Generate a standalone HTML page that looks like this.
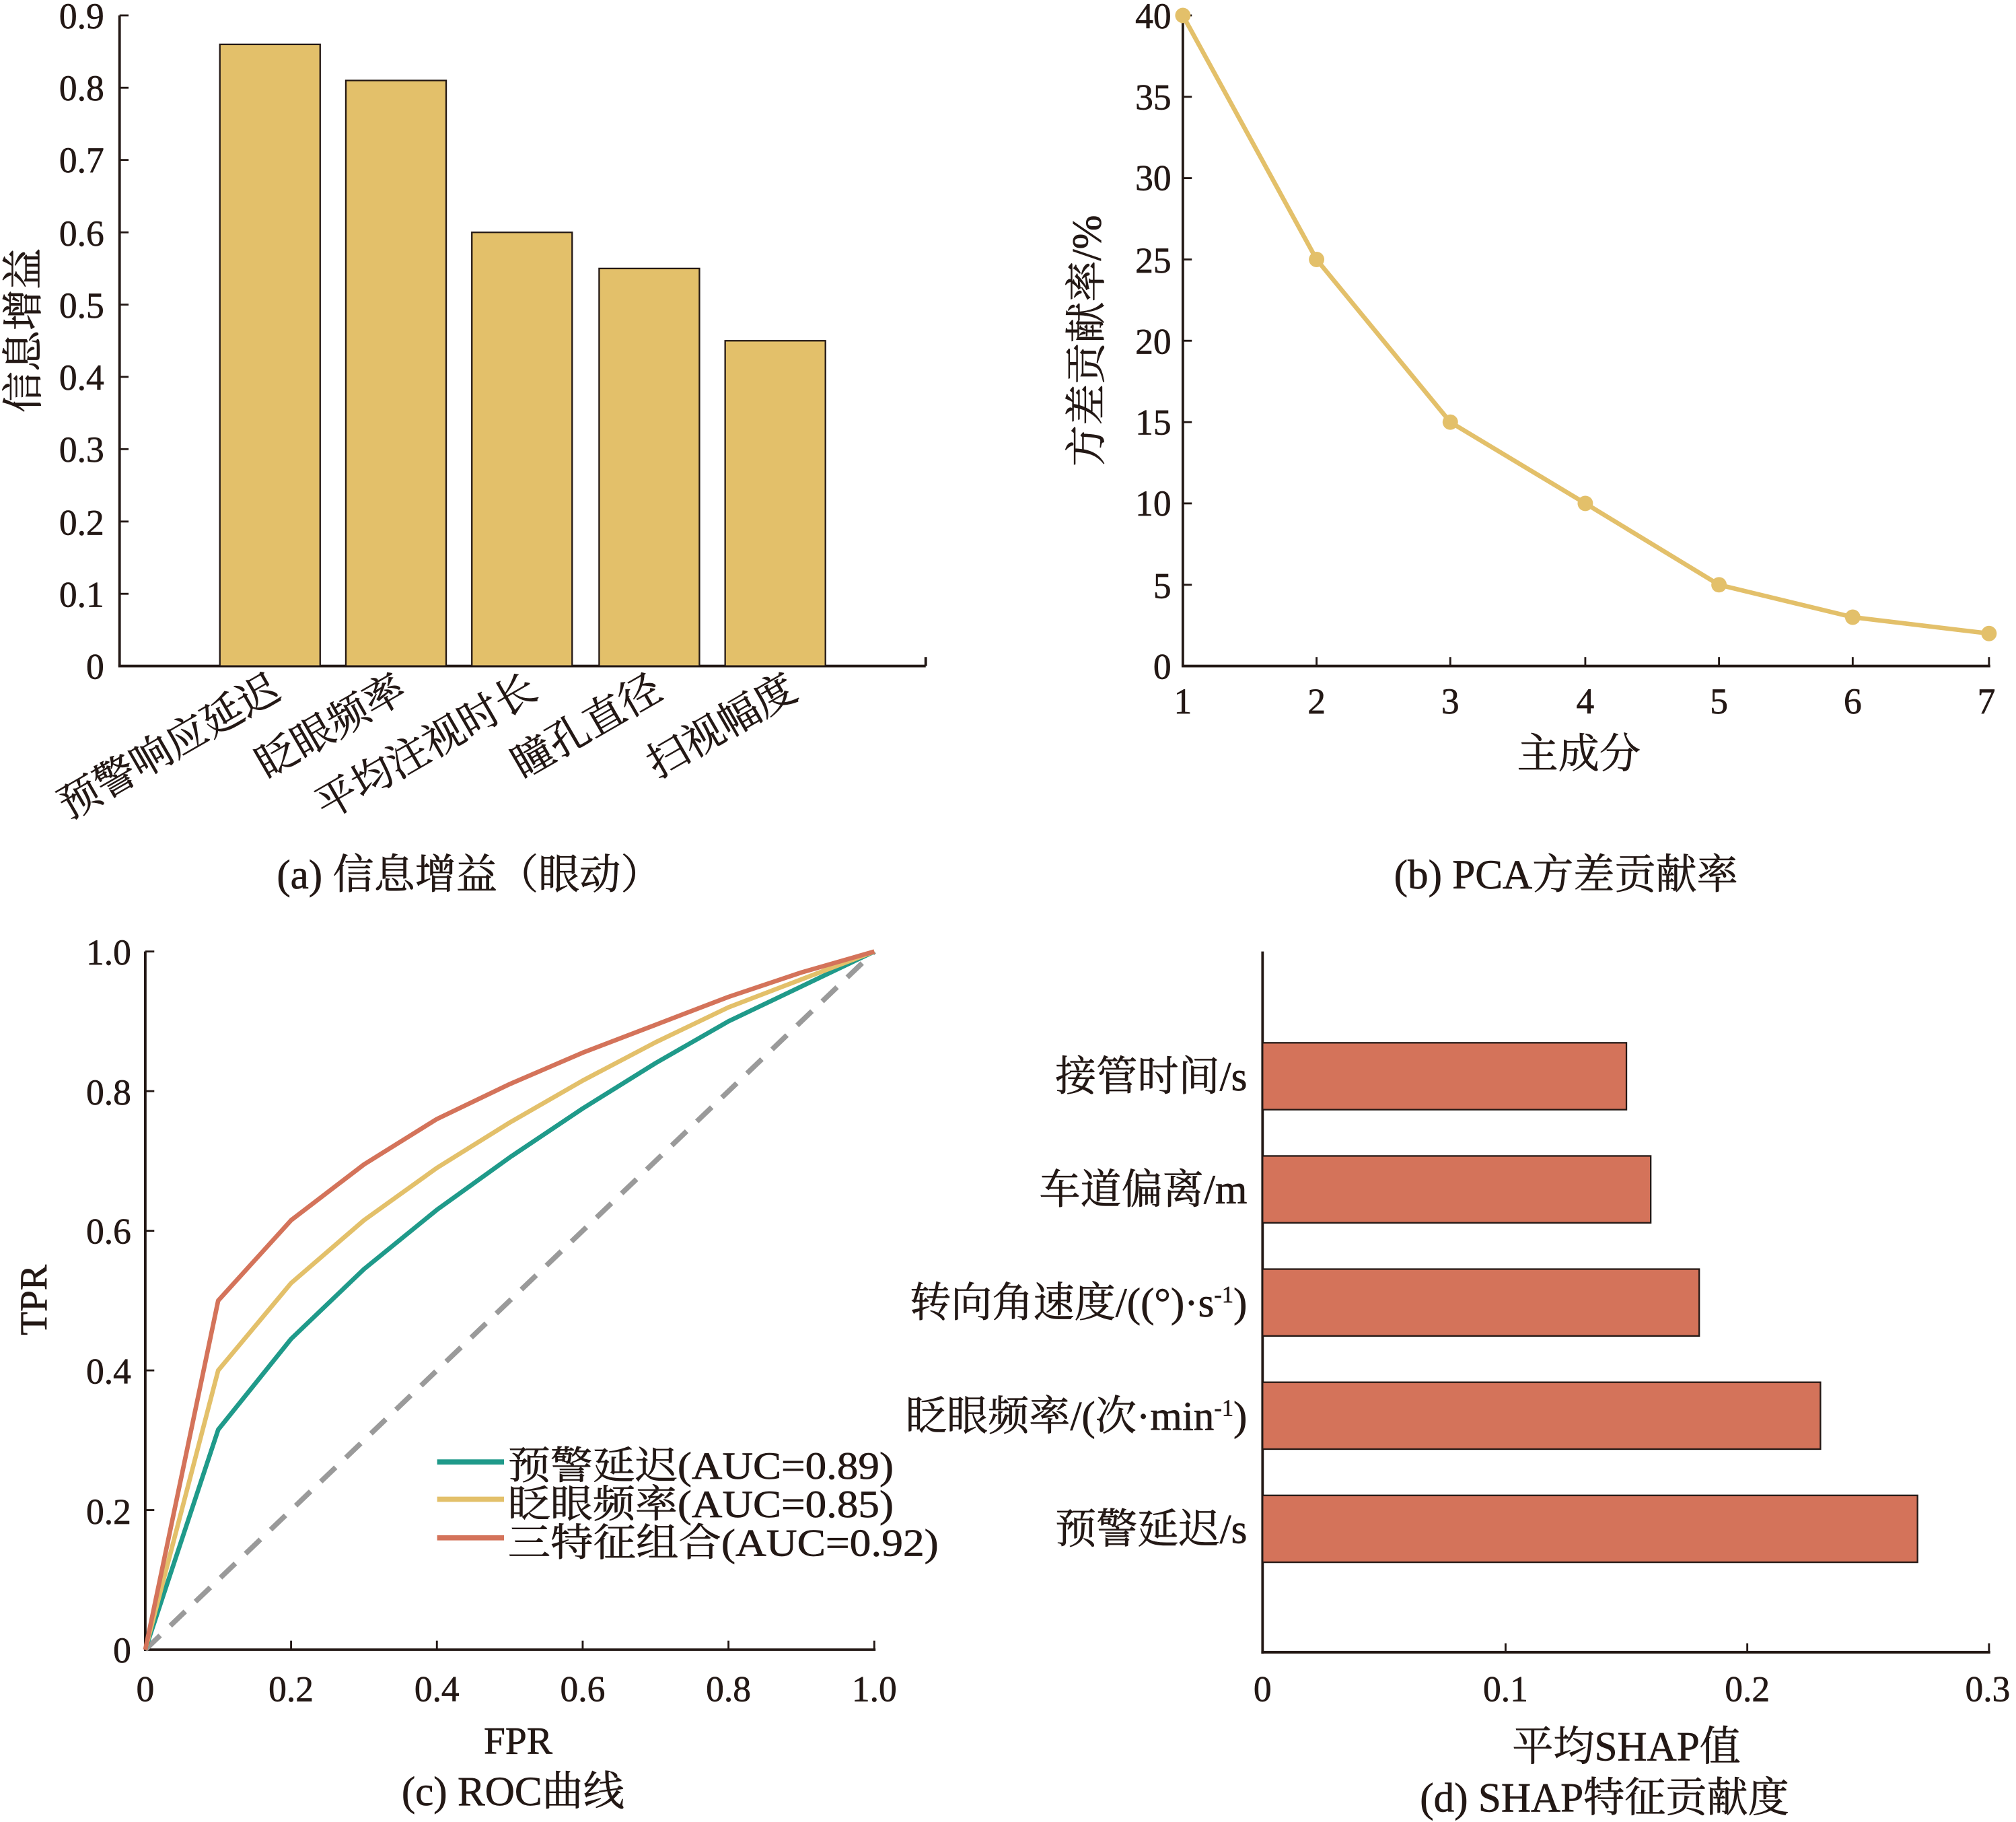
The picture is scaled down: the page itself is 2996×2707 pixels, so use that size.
<!DOCTYPE html>
<html><head><meta charset="utf-8"><style>
html,body{margin:0;padding:0;background:#fff}
svg{display:block}
text{font-family:"Liberation Serif","Noto Serif CJK SC",serif;fill:#231815;stroke:#231815;stroke-width:0.35}
</style></head><body>
<svg width="2996" height="2707" viewBox="0 0 1568 1417" preserveAspectRatio="none">
<rect width="1568" height="1417" fill="#fff"/>
<!-- Panel a -->
<g stroke="#231815" stroke-width="2" fill="none">
<line x1="93" y1="12" x2="93" y2="518"/><line x1="92" y1="518" x2="720" y2="518"/>
<line x1="720" y1="518" x2="720" y2="511"/>
</g>
<g stroke="#231815" stroke-width="1.5">
<line x1="93" y1="12" x2="100" y2="12"/><line x1="93" y1="68.2" x2="100" y2="68.2"/><line x1="93" y1="124.4" x2="100" y2="124.4"/><line x1="93" y1="180.7" x2="100" y2="180.7"/><line x1="93" y1="236.9" x2="100" y2="236.9"/><line x1="93" y1="293.1" x2="100" y2="293.1"/><line x1="93" y1="349.3" x2="100" y2="349.3"/><line x1="93" y1="405.6" x2="100" y2="405.6"/><line x1="93" y1="461.8" x2="100" y2="461.8"/>
</g>
<g font-size="28" text-anchor="end">
<text x="81" y="22">0.9</text><text x="81" y="78">0.8</text><text x="81" y="134">0.7</text><text x="81" y="191">0.6</text><text x="81" y="247">0.5</text><text x="81" y="303">0.4</text><text x="81" y="359">0.3</text><text x="81" y="416">0.2</text><text x="81" y="472">0.1</text><text x="81" y="528">0</text>
</g>
<g fill="#E3C06A" stroke="#231815" stroke-width="1.2">
<rect x="171" y="34.5" width="78" height="483.5"/><rect x="269" y="62.6" width="78" height="455.4"/><rect x="367" y="180.7" width="78" height="337.3"/><rect x="466" y="208.8" width="78" height="309.2"/><rect x="564" y="265" width="78" height="253"/>
</g>
<g font-size="32" text-anchor="end">
<text transform="translate(220,542) rotate(-30)">预警响应延迟</text>
<text transform="translate(318,542) rotate(-30)">眨眼频率</text>
<text transform="translate(420,542) rotate(-30)">平均注视时长</text>
<text transform="translate(517,542) rotate(-30)">瞳孔直径</text>
<text transform="translate(622,542) rotate(-30)">扫视幅度</text>
</g>
<text font-size="32" text-anchor="middle" transform="translate(29,257) rotate(-90)">信息增益</text>
<text x="365" y="691" font-size="32" text-anchor="middle">(a) 信息增益（眼动）</text>

<!-- Panel b -->
<g stroke="#231815" stroke-width="2" fill="none">
<line x1="920" y1="12" x2="920" y2="518"/><line x1="919" y1="518" x2="1548" y2="518"/>
</g>
<g stroke="#231815" stroke-width="1.5">
<line x1="920" y1="12" x2="927" y2="12"/><line x1="920" y1="75.3" x2="927" y2="75.3"/><line x1="920" y1="138.5" x2="927" y2="138.5"/><line x1="920" y1="201.8" x2="927" y2="201.8"/><line x1="920" y1="265" x2="927" y2="265"/><line x1="920" y1="328.3" x2="927" y2="328.3"/><line x1="920" y1="391.5" x2="927" y2="391.5"/><line x1="920" y1="454.8" x2="927" y2="454.8"/>
<line x1="1024" y1="518" x2="1024" y2="511"/><line x1="1128" y1="518" x2="1128" y2="511"/><line x1="1233" y1="518" x2="1233" y2="511"/><line x1="1337" y1="518" x2="1337" y2="511"/><line x1="1441" y1="518" x2="1441" y2="511"/><line x1="1547" y1="518" x2="1547" y2="511"/>
</g>
<g font-size="28" text-anchor="end">
<text x="911" y="22">40</text><text x="911" y="85">35</text><text x="911" y="148">30</text><text x="911" y="212">25</text><text x="911" y="275">20</text><text x="911" y="338">15</text><text x="911" y="401">10</text><text x="911" y="465">5</text><text x="911" y="528">0</text>
</g>
<g font-size="28" text-anchor="middle">
<text x="920" y="555">1</text><text x="1024" y="555">2</text><text x="1128" y="555">3</text><text x="1233" y="555">4</text><text x="1337" y="555">5</text><text x="1441" y="555">6</text><text x="1545" y="555">7</text>
</g>
<polyline fill="none" stroke="#E3C06A" stroke-width="3.5" points="920,12 1024,201.8 1128,328.3 1233,391.5 1337,454.8 1441,480 1547,492.7"/>
<g fill="#E3C06A">
<circle cx="920" cy="12" r="6"/><circle cx="1024" cy="201.8" r="6"/><circle cx="1128" cy="328.3" r="6"/><circle cx="1233" cy="391.5" r="6"/><circle cx="1337" cy="454.8" r="6"/><circle cx="1441" cy="480" r="6"/><circle cx="1547" cy="492.7" r="6"/>
</g>
<text x="1228" y="597" font-size="32" text-anchor="middle">主成分</text>
<text font-size="32" text-anchor="middle" transform="translate(856,265) rotate(-90)">方差贡献率/%</text>
<text x="1218" y="691" font-size="32" text-anchor="middle">(b) PCA方差贡献率</text>

<!-- Panel c -->
<g stroke="#231815" stroke-width="2" fill="none">
<line x1="113" y1="740" x2="113" y2="1284"/><line x1="112" y1="1283" x2="681" y2="1283"/>
</g>
<g stroke="#231815" stroke-width="1.5">
<line x1="113" y1="740" x2="120" y2="740"/><line x1="113" y1="848.6" x2="120" y2="848.6"/><line x1="113" y1="957.2" x2="120" y2="957.2"/><line x1="113" y1="1065.8" x2="120" y2="1065.8"/><line x1="113" y1="1174.4" x2="120" y2="1174.4"/>
<line x1="226.4" y1="1283" x2="226.4" y2="1276"/><line x1="339.8" y1="1283" x2="339.8" y2="1276"/><line x1="453.2" y1="1283" x2="453.2" y2="1276"/><line x1="566.6" y1="1283" x2="566.6" y2="1276"/><line x1="680" y1="1283" x2="680" y2="1276"/>
</g>
<g font-size="28" text-anchor="end">
<text x="102" y="750">1.0</text><text x="102" y="859">0.8</text><text x="102" y="967">0.6</text><text x="102" y="1076">0.4</text><text x="102" y="1185">0.2</text><text x="102" y="1293">0</text>
</g>
<g font-size="28" text-anchor="middle">
<text x="113" y="1323">0</text><text x="226.4" y="1323">0.2</text><text x="339.8" y="1323">0.4</text><text x="453.2" y="1323">0.6</text><text x="566.6" y="1323">0.8</text><text x="680" y="1323">1.0</text>
</g>
<line x1="113" y1="1283" x2="680" y2="740" stroke="#9a9a9a" stroke-width="4" stroke-dasharray="16,11"/>
<g fill="none" stroke-width="3.5" stroke-linejoin="round">
<polyline stroke="#1F9A8A" points="113,1283 169.7,1111.9 226.4,1041.3 283.1,987 339.8,940.9 396.5,900.1 453.2,862.1 509.9,826.8 566.6,794.3 623.3,767.2 680,740"/>
<polyline stroke="#E3C06A" points="113,1283 169.7,1065.8 226.4,997.9 283.1,949 339.8,908.3 396.5,873 453.2,840.4 509.9,810.6 566.6,783.4 623.3,761.7 680,740"/>
<polyline stroke="#D4735A" points="113,1283 169.7,1011.5 226.4,949 283.1,905.6 339.8,870.3 396.5,843.1 453.2,818.7 509.9,797 566.6,775.3 623.3,756.3 680,740"/>
</g>
<g stroke-width="4">
<line x1="340" y1="1137" x2="392" y2="1137" stroke="#1F9A8A"/>
<line x1="340" y1="1166" x2="392" y2="1166" stroke="#E3C06A"/>
<line x1="340" y1="1196" x2="392" y2="1196" stroke="#D4735A"/>
</g>
<g font-size="30">
<text x="395" y="1150" textLength="300" lengthAdjust="spacingAndGlyphs">预警延迟(AUC=0.89)</text>
<text x="395" y="1180" textLength="300" lengthAdjust="spacingAndGlyphs">眨眼频率(AUC=0.85)</text>
<text x="395" y="1210" textLength="335" lengthAdjust="spacingAndGlyphs">三特征组合(AUC=0.92)</text>
</g>
<text font-size="30" text-anchor="middle" transform="translate(36,1011) rotate(-90)">TPR</text>
<text x="403" y="1364" font-size="30" text-anchor="middle">FPR</text>
<text x="399" y="1404" font-size="32" text-anchor="middle">(c) ROC曲线</text>

<!-- Panel d -->
<g stroke="#231815" stroke-width="2" fill="none">
<line x1="982" y1="740" x2="982" y2="1286"/><line x1="981" y1="1285" x2="1548" y2="1285"/>
</g>
<g stroke="#231815" stroke-width="1.5">
<line x1="1171" y1="1285" x2="1171" y2="1278"/><line x1="1359" y1="1285" x2="1359" y2="1278"/><line x1="1547" y1="1285" x2="1547" y2="1278"/>
<line x1="982" y1="837" x2="989" y2="837"/><line x1="982" y1="925" x2="989" y2="925"/><line x1="982" y1="1013" x2="989" y2="1013"/><line x1="982" y1="1101" x2="989" y2="1101"/><line x1="982" y1="1189" x2="989" y2="1189"/>
</g>
<g fill="#D4735A" stroke="#231815" stroke-width="1.2">
<rect x="982" y="811" width="283" height="52"/><rect x="982" y="899" width="301.9" height="52"/><rect x="982" y="987" width="339.6" height="52"/><rect x="982" y="1075" width="433.9" height="52"/><rect x="982" y="1163" width="509.4" height="52"/>
</g>
<g font-size="32" text-anchor="end">
<text x="970" y="848">接管时间/s</text>
<text x="970" y="936">车道偏离/m</text>
<text x="970" y="1024">转向角速度/((°)·s<tspan font-size="18" dy="-11">-1</tspan><tspan dy="11">)</tspan></text>
<text x="970" y="1112">眨眼频率/(次·min<tspan font-size="18" dy="-11">-1</tspan><tspan dy="11">)</tspan></text>
<text x="970" y="1200">预警延迟/s</text>
</g>
<g font-size="28" text-anchor="middle">
<text x="982" y="1323">0</text><text x="1171" y="1323">0.1</text><text x="1359" y="1323">0.2</text><text x="1546" y="1323">0.3</text>
</g>
<text x="1265" y="1369" font-size="32" text-anchor="middle">平均SHAP值</text>
<text x="1248" y="1409" font-size="32" text-anchor="middle">(d) SHAP特征贡献度</text>
</svg>
</body></html>
